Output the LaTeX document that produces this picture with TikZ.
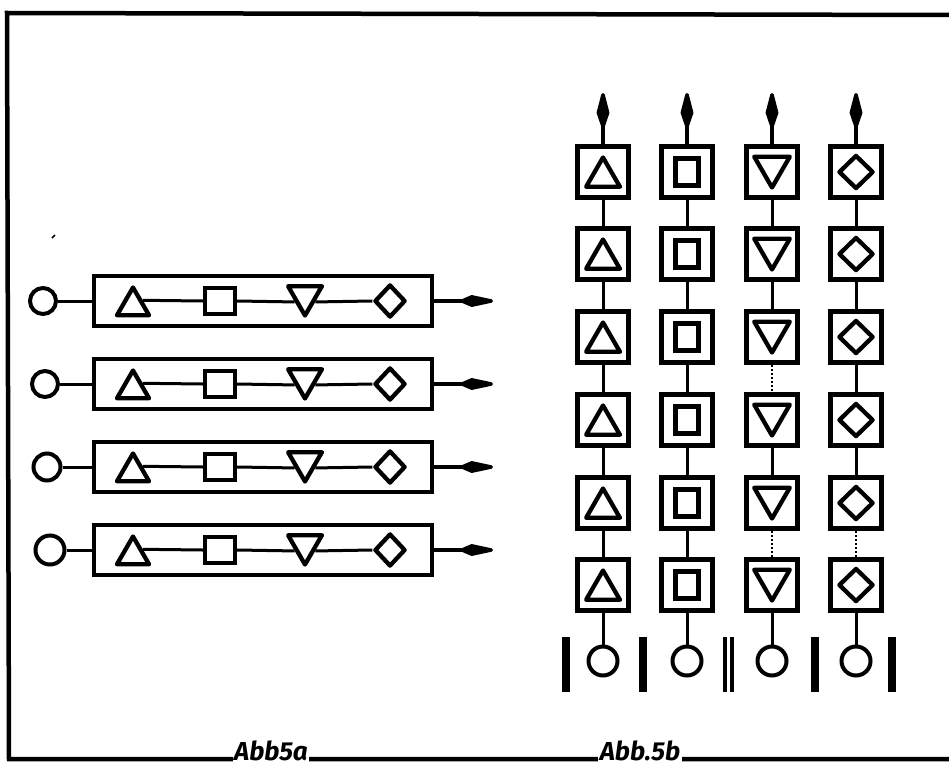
\documentclass[tikz,border=0pt]{standalone}
\usepackage{fontspec}
\setsansfont{Fira Sans}
\usetikzlibrary{shapes.geometric,arrows.meta,calc}
\tikzset{
  framestroke/.style={line width=4.5pt,line cap=round},
  rowbox/.style={draw,line width=4.5pt,minimum width=338pt,minimum height=50pt,inner sep=0pt},
  cellbox/.style={draw,line width=5.5pt,minimum size=51pt,inner sep=0pt},
  srcnode/.style={circle,draw,line width=4pt,inner sep=0pt},
  tri/.style={regular polygon,regular polygon sides=3,draw,line width=4.3pt,line join=round,inner sep=0pt},
  itri/.style={regular polygon,regular polygon sides=3,shape border rotate=180,draw,line width=4.3pt,line join=round,inner sep=0pt},
  sqr/.style={rectangle,draw,line width=4.3pt,inner sep=0pt},
  dia/.style={diamond,draw,line width=4.3pt,line join=round,inner sep=0pt},
  conn/.style={line width=3pt},
  dconn/.style={line width=2pt,dotted},
  outarrow/.style={line width=3.5pt,-{Kite[length=42pt,width=12pt,inset=14pt,round]}},
  uparrow/.style={line width=3.5pt,-{Kite[length=44pt,width=13pt,inset=19pt,round]}},
  bar/.style={line width=8pt},
  caption/.style={font=\sffamily\itshape\bfseries\fontsize{26}{28}\selectfont,fill=white,inner sep=1.5pt,anchor=base}
}
\begin{document}
\begin{tikzpicture}[x=1pt,y=-1pt]
\useasboundingbox (0,0) rectangle (949,765);
% frame
\coordinate (tl) at (7,13);
\coordinate (tr) at (949,15);
\coordinate (bl) at (9,759);
\coordinate (br) at (949,759);
\draw[framestroke] (tr) -- (tl) -- (bl) -- (br);
\node[caption] (capa) at (271,760) {Abb5a};
\node[caption] (capb) at (640,760) {Abb.5b};
\draw[line width=1.5pt] (52,238) -- (55,235);
% left part: four horizontal rows
\foreach \i/\y/\cx/\cr in {1/301/43/26,2/384/45/26,3/467/47/27,4/550/50/29}{
  \node[srcnode,minimum size=\cr pt] (c\i) at (\cx,\y) {};
  \node[rowbox] (r\i) at (263,\y) {};
  \node[tri,minimum size=37pt] (ta\i) at (133,\y+5) {};
  \node[sqr,minimum width=30pt,minimum height=26pt] (sa\i) at (220,\y) {};
  \node[itri,minimum size=39pt] (ia\i) at (305,\y-5) {};
  \node[dia,minimum width=31pt,minimum height=33pt] (da\i) at (390,\y) {};
  \coordinate (e\i) at (493,\y);
  \draw[conn] (c\i) -- (r\i.west |- c\i);
  \draw[conn] ($(ta\i.corner 1)!0.5!(ta\i.corner 3)$) -- (sa\i.west);
  \draw[conn] (sa\i.east) -- ($(ia\i.corner 1)!0.5!(ia\i.corner 3)$);
  \draw[conn] ($(ia\i.corner 1)!0.5!(ia\i.corner 2)$) -- (da\i.west);
  \draw[outarrow] (r\i.east |- e\i) -- (e\i);
}
% right part: four vertical columns
\foreach \r/\y in {1/172,2/254,3/337,4/420,5/503,6/585}{
  \node[cellbox] (ga\r) at (603,\y) {};
  \node[tri,minimum size=39pt] (gat\r) at (603,\y+5) {};
  \node[cellbox] (gb\r) at (687,\y) {};
  \node[sqr,line width=4.5pt,minimum width=23pt,minimum height=27pt] (gbs\r) at (687,\y) {};
  \node[cellbox] (gc\r) at (772,\y) {};
  \node[itri,minimum size=41pt] (gci\r) at (772,\y-5) {};
  \node[cellbox] (gd\r) at (856,\y) {};
  \node[dia,minimum width=35pt,minimum height=34pt] (gdd\r) at (856,\y) {};
}
\foreach \p/\q in {1/2,2/3,3/4,4/5,5/6}{
  \draw[conn] (ga\p) -- (ga\q);
  \draw[conn] (gb\p) -- (gb\q);
}
\foreach \p/\q in {1/2,2/3,4/5}{\draw[conn] (gc\p) -- (gc\q);}
\foreach \p/\q in {3/4,5/6}{\draw[dconn] (gc\p) -- (gc\q);}
\foreach \p/\q in {1/2,2/3,3/4,4/5}{\draw[conn] (gd\p) -- (gd\q);}
\draw[dconn] (gd5) -- (gd6);
% outputs on top, sources at bottom
\foreach \n/\x in {a/603,b/687,c/772,d/856}{
  \coordinate (top\n) at (\x,93);
  \draw[uparrow] (g\n1) -- (top\n);
  \node[srcnode,minimum size=29pt] (s\n) at (\x,661) {};
  \draw[conn] (g\n6) -- (s\n);
}
% separating bars
\foreach \k/\x in {1/566,2/643,4/815,5/892}{
  \coordinate (bt\k) at (\x,637);
  \coordinate (bb\k) at (\x,692);
  \draw[bar] (bt\k) -- (bb\k);
}
\coordinate (bt3) at (725,637);
\coordinate (bb3) at (725,692);
\coordinate (bt3b) at (732,637);
\coordinate (bb3b) at (732,692);
\draw[line width=4pt] (bt3) -- (bb3);
\draw[line width=4pt] (bt3b) -- (bb3b);
\end{tikzpicture}
\end{document}
